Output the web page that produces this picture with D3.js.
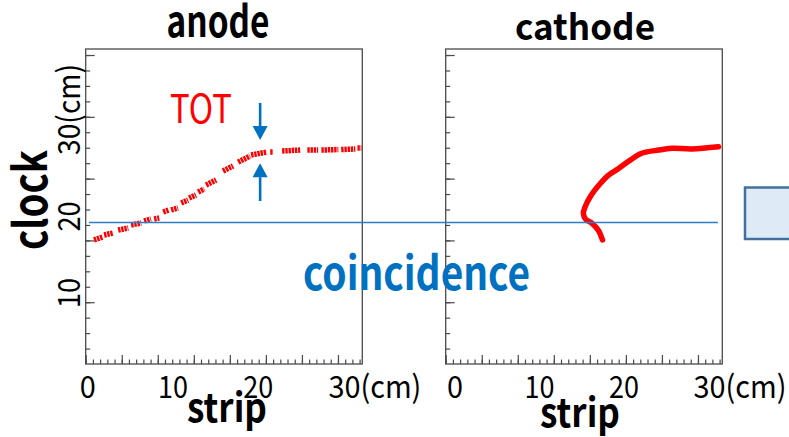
<!DOCTYPE html>
<html>
<head>
<meta charset="utf-8">
<script src="https://cdn.jsdelivr.net/npm/d3@7"></script>
<style>
    body { margin: 0; background: #fff; }
    svg { display: block; font-family: "Noto Sans CJK JP", "Noto Sans", sans-serif; }
    .frame { fill: none; stroke: #4a4a4a; stroke-width: 1.3; }
    .tick line { stroke: #4a4a4a; stroke-width: 1.2; }
</style>
</head>
<body>
<svg id="chart" width="789" height="437"></svg>
<script>
// anode hits: null breaks the trace into the short dashes seen in the picture
const anodeStrip = [2.3, 4.8, null, 5.1, 7.6, null, 9.0, 11.8, null, 12.6, 15.4, null,
    16.2, 18.1, null, 19.0, 20.4, null, 21.5, 23.1, null, 23.7, 25.6, null, 26.5, 28.4, null,
    28.7, 30.6, null, 31.2, 32.9, null, 33.4, 36.2, null, 38.1, 40.9, null, 42.3, 45.6, null,
    45.9, 50.3, null, 51.2, 52.0, null, 54.5, 59.5, null, 61.5, 64.5, null, 65.4, 70.1, null,
    70.9, 74.8, null, 75.4, 76.5];
const anodeClock = [8.03, 8.22, null, 8.35, 8.48, null, 8.67, 8.80, null, 9.00, 9.13, null,
    9.26, 9.39, null, 9.39, 9.45, null, 9.84, 9.97, null, 9.97, 10.10, null, 10.42, 10.61, null,
    10.74, 10.94, null, 11.13, 11.33, null, 11.59, 11.91, null, 12.49, 12.82, null, 13.07, 13.46, null,
    13.53, 13.72, null, 13.72, 13.72, null, 13.79, 13.85, null, 13.85, 13.85, null, 13.85, 13.88, null,
    13.88, 13.92, null, 13.98, 13.98];

// cathode hits, from the lower tip up and along the plateau
const cathodeStrip = [43.5, 42.3, 40.6, 38.9, 38.2, 38.7, 40.1, 42.9, 45.2, 48.0, 51.2,
    54.4, 59.1, 62.8, 68.3, 75.7];
const cathodeClock = [8.03, 8.67, 9.11, 9.35, 9.77, 10.18, 10.83, 11.68, 12.23, 12.66, 13.20,
    13.64, 13.85, 13.96, 13.92, 14.06];

const coincidenceClock = 9.16;
const coincidenceStrip = [0.9, 75.5];   // [on anode, on cathode]

const arrowStrip = 48.4;
const arrowFrom = [16.9, 10.55];
const arrowTo = [14.5, 13.0];

const cmLabels = [0, 10, 20, 30];
const cmYLabels = [10, 20, 30];

const stripMax = 76.75;
const clockMax = 20.39;

const svg = d3.select('#chart');
const panelTop = 49, panelW = 276.6, panelH = 315;
const blue = '#0070c0';

const x = d3.scaleLinear().domain([0, stripMax]).range([0, panelW]);
const y = d3.scaleLinear().domain([0, clockMax]).range([panelH, 0]);

function panel(left, o) {
    var g = svg.append('g').attr('transform', 'translate(' + left + ',' + panelTop + ')');

    // inward ticks, left and bottom only
    g.append('g')
        .call(d3.axisRight(y).tickValues(d3.range(1, 21)).tickSize(4.5).tickFormat(''))
        .call(a => a.select('.domain').remove());
    g.append('g')
        .call(d3.axisRight(y).tickValues([4, 8, 12, 16, 20]).tickSize(9).tickFormat(''))
        .call(a => a.select('.domain').remove());
    g.append('g').attr('transform', 'translate(0,' + panelH + ')')
        .call(d3.axisTop(x).tickValues(d3.range(0, 77, 2)).tickSize(4.5).tickFormat(''))
        .call(a => a.select('.domain').remove());
    g.append('g').attr('transform', 'translate(0,' + panelH + ')')
        .call(d3.axisTop(x).tickValues(d3.range(0, 71, 10)).tickSize(9).tickFormat(''))
        .call(a => a.select('.domain').remove());

    g.append('rect').classed('frame', true)
        .attr('width', panelW).attr('height', panelH);

    svg.append('text')
        .attr('x', left + o.titleX).attr('y', o.titleY)
        .attr('text-anchor', 'middle')
        .attr('font-size', o.titleSize).attr('font-weight', 700)
        .attr('textLength', o.titleLen).attr('lengthAdjust', 'spacingAndGlyphs')
        .text(o.title);

    // cm labels under the strip axis
    var cm = d3.scaleLinear().domain([0, 30]).range(o.cmRange);
    cmLabels.forEach(function (c) {
        var last = c === 30;
        svg.append('text')
            .attr('x', left + x(cm(c)) - (last ? 15 : 0))
            .attr('y', panelTop + panelH + 34)
            .attr('text-anchor', last ? 'start' : 'middle')
            .attr('font-size', 31)
            .attr('textLength', last ? 93 : (c === 0 ? 16 : 30))
            .attr('lengthAdjust', 'spacingAndGlyphs')
            .text(last ? c + '(cm)' : String(c));
    });

    svg.append('text')
        .attr('x', left + o.stripX).attr('y', o.stripY)
        .attr('text-anchor', 'middle')
        .attr('font-size', 40).attr('font-weight', 700)
        .attr('textLength', 80).attr('lengthAdjust', 'spacingAndGlyphs')
        .text('strip');
    return g;
}

var anode = panel(85.7, {title: 'anode', titleSize: 42, titleLen: 103, titleX: 132.3, titleY: 37,
    cmRange: [0.6, 71.5], stripX: 141.3, stripY: 422});
var cathode = panel(445.7, {title: 'cathode', titleSize: 36, titleLen: 140, titleX: 139.3, titleY: 40,
    cmRange: [2.6, 72.9], stripX: 134.3, stripY: 427});

// clock axis labels (only on the anode side)
var cmY = d3.scaleLinear().domain([10, 30]).range([4.6, 14.5]);
cmYLabels.forEach(function (c) {
    var last = c === 30;
    svg.append('text')
        .attr('transform', 'translate(80,' + (panelTop + y(cmY(c)) + (last ? 15 : 0)) + ') rotate(-90)')
        .attr('text-anchor', last ? 'start' : 'middle')
        .attr('font-size', 31)
        .attr('textLength', last ? 91 : 30)
        .attr('lengthAdjust', 'spacingAndGlyphs')
        .text(last ? c + '(cm)' : String(c));
});

svg.append('text')
    .attr('transform', 'translate(47,200) rotate(-90)')
    .attr('text-anchor', 'middle')
    .attr('font-size', 46).attr('font-weight', 700)
    .attr('textLength', 100).attr('lengthAdjust', 'spacingAndGlyphs')
    .text('clock');

// red traces
var line = d3.line()
    .defined(d => d[0] !== null && d[1] !== null)
    .x(d => x(d[0])).y(d => y(d[1]));

anode.append('path')
    .datum(d3.zip(anodeStrip, anodeClock))
    .attr('d', line)
    .attr('fill', 'none').attr('stroke', '#ff0000')
    .attr('stroke-width', 5.5).attr('stroke-dasharray', '2.4,0.8');

cathode.append('path')
    .datum(d3.zip(cathodeStrip, cathodeClock))
    .attr('d', line.curve(d3.curveCatmullRom))
    .attr('fill', 'none').attr('stroke', '#ff0000')
    .attr('stroke-width', 5.5).attr('stroke-linecap', 'round').attr('stroke-linejoin', 'round');

// coincidence threshold, spans both panels
svg.append('line')
    .attr('x1', 85.7 + x(coincidenceStrip[0])).attr('x2', 445.7 + x(coincidenceStrip[1]))
    .attr('y1', panelTop + y(coincidenceClock)).attr('y2', panelTop + y(coincidenceClock))
    .attr('stroke', '#2a7fc6').attr('stroke-width', 1.6);

svg.append('text')
    .attr('x', 303).attr('y', 290)
    .attr('font-size', 46).attr('font-weight', 700).attr('fill', blue)
    .attr('textLength', 227).attr('lengthAdjust', 'spacingAndGlyphs')
    .text('coincidence');

// TOT arrows
arrowFrom.forEach(function (c0, i) {
    var ax = x(arrowStrip), y0 = y(c0), y1 = y(arrowTo[i]);
    var dir = y1 > y0 ? 1 : -1, head = 14;
    anode.append('line')
        .attr('x1', ax).attr('x2', ax)
        .attr('y1', y0).attr('y2', y1 - dir * head)
        .attr('stroke', blue).attr('stroke-width', 2.6);
    anode.append('path')
        .attr('d', 'M' + (ax - 7.5) + ',' + (y1 - dir * head) + 'L' + (ax + 7.5) + ',' +
            (y1 - dir * head) + 'L' + ax + ',' + y1 + 'Z')
        .attr('fill', blue);
});

svg.append('text')
    .attr('x', 201).attr('y', 123)
    .attr('text-anchor', 'middle')
    .attr('font-size', 40).attr('fill', '#ff0000')
    .attr('textLength', 62).attr('lengthAdjust', 'spacingAndGlyphs')
    .text('TOT');

// box cut off at the right edge
svg.append('rect')
    .attr('x', 745).attr('y', 187.5).attr('width', 60).attr('height', 51.5)
    .attr('fill', '#deebf7').attr('stroke', '#41719c').attr('stroke-width', 2.5);
</script>
</body>
</html>
